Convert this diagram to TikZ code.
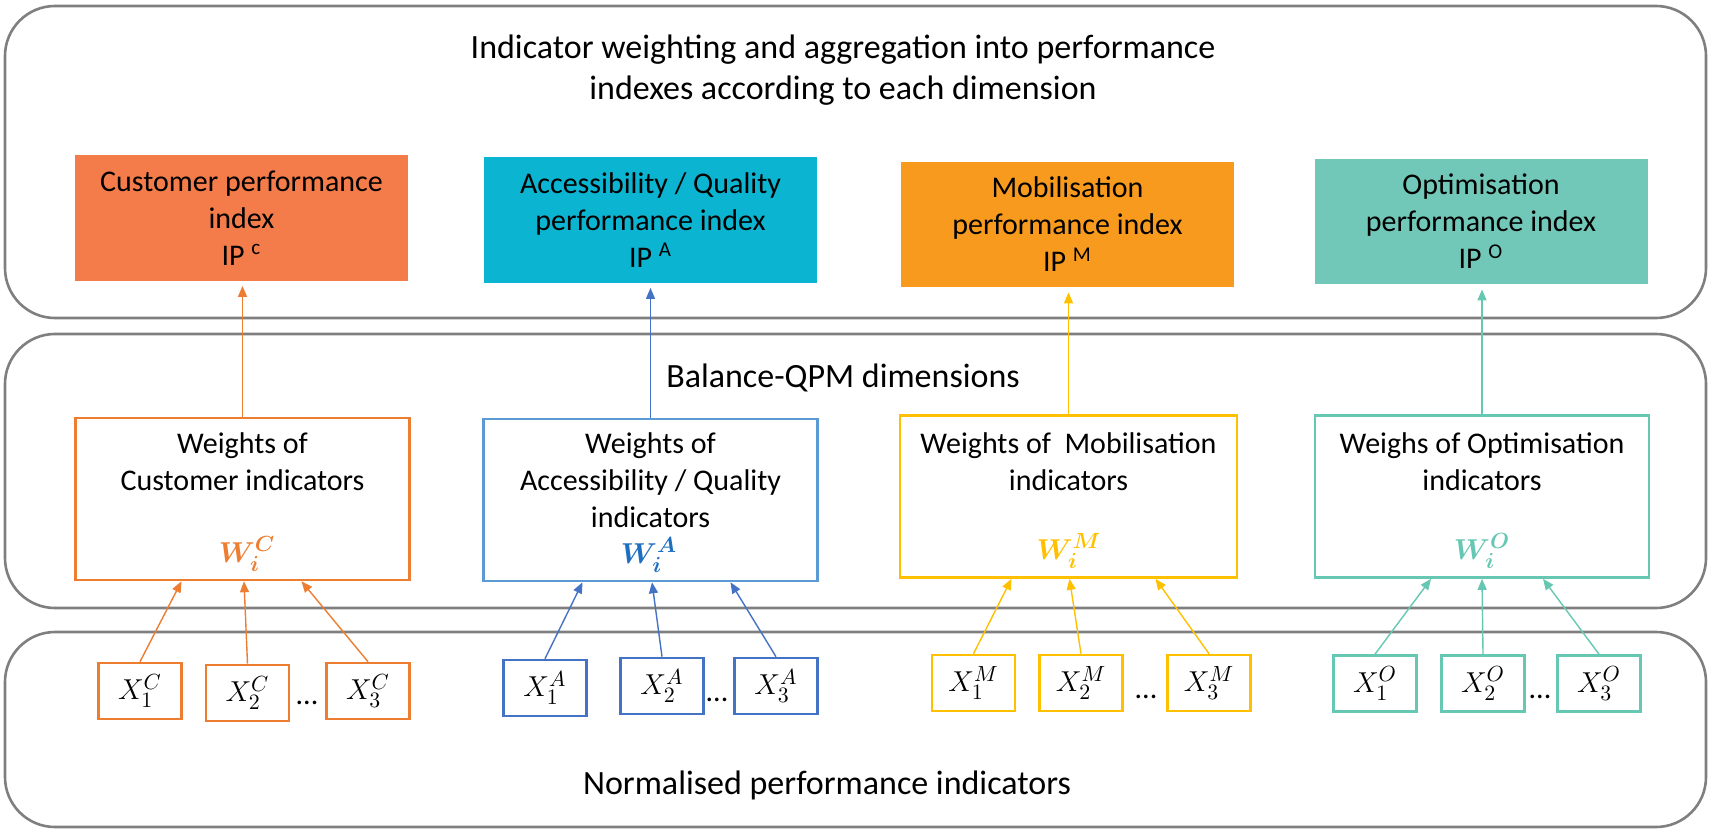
\documentclass[tikz,border=0pt]{standalone}
\usepackage{fontspec}
\setmainfont{Carlito}
\usepackage{amsmath,bm}
\usetikzlibrary{arrows.meta,calc}
\definecolor{cFill}{HTML}{F47C4A}
\definecolor{cLine}{HTML}{ED7D31}
\definecolor{aFill}{HTML}{0BB4D0}
\definecolor{aLine}{HTML}{5B9BD5}
\definecolor{aDark}{HTML}{4472C4}
\definecolor{aText}{HTML}{1F6FC0}
\definecolor{mFill}{HTML}{F79A1E}
\definecolor{mLine}{HTML}{FFC000}
\definecolor{oFill}{HTML}{72C8B8}
\definecolor{oLine}{HTML}{66C7B2}
\definecolor{gLine}{HTML}{7F7F7F}
\begin{document}
\begin{tikzpicture}[x=0.5pt,y=-0.5pt,
  panel/.style={draw=gLine,line width=1.3pt,rounded corners=25pt},
  bigtxt/.style={inner sep=0pt,align=center,font=\fontsize{17pt}{20.5pt}\selectfont},
  txt/.style={inner sep=0pt,align=center,font=\fontsize{15pt}{18.5pt}\selectfont},
  idx/.style={txt,minimum width=166.5pt,minimum height=62.5pt,draw=none},
  wbox/.style={draw,line width=1.3pt,minimum width=167pt,minimum height=81pt,inner sep=0pt},
  xbox/.style={draw,line width=1.3pt,minimum width=41.5pt,minimum height=28pt,inner sep=0pt,font=\fontsize{15pt}{18pt}\selectfont},
  wsym/.style={inner sep=0pt,font=\fontsize{15pt}{18pt}\selectfont},
  dots/.style={inner sep=0pt,font=\fontsize{15pt}{18pt}\selectfont},
  arr/.style={line width=0.7pt,-{Triangle[length=5.5pt,width=4.5pt]}}
]
\useasboundingbox (0,0) rectangle (1712,834);
% panels
\draw[panel] (5,6) rectangle (1706,318);
\draw[panel] (5,334) rectangle (1706,608);
\draw[panel] (5,632) rectangle (1706,827);
% panel titles
\node[bigtxt] (title) at (843,70.5) {Indicator weighting and aggregation into performance\\indexes according to each dimension};
\node[bigtxt] (bal) at (843,378) {Balance-QPM dimensions};
\node[bigtxt] (norm) at (827,785) {Normalised performance indicators};
% index boxes
\node[idx,fill=cFill] (ic) at (241.5,218) {Customer performance\\index\\IP \textsuperscript{c}};
\node[idx,fill=aFill] (ia) at (650.5,220) {Accessibility / Quality\\performance index\\IP \textsuperscript{A}};
\node[idx,fill=mFill] (im) at (1067.5,224.5) {Mobilisation\\performance index\\IP \textsuperscript{M}};
\node[idx,fill=oFill] (io) at (1481,221.5) {Optimisation\\performance index\\IP \textsuperscript{O}};
% weight boxes
\node[wbox,draw=cLine] (wc) at (242.5,499) {};
\node[wbox,draw=aLine] (wa) at (650.5,500) {};
\node[wbox,draw=mLine,minimum width=168.5pt] (wm) at (1068.5,496.5) {};
\node[wbox,draw=oLine] (wo) at (1482,496.5) {};
\node[txt] (tc) at (242.5,462) {Weights of\\Customer indicators};
\node[txt] (ta) at (650.5,480) {Weights of\\Accessibility / Quality\\indicators};
\node[txt] (tm) at (1068.5,461.5) {Weights of~~Mobilisation\\indicators};
\node[txt] (to) at (1482,461.5) {Weighs of Optimisation\\indicators};
\node[wsym,text=cLine] (sc) at (247,554) {$\bm{W_i^C}$};
\node[wsym,text=aText] (sa) at (649,555) {$\bm{W_i^A}$};
\node[wsym,text=mLine] (sm) at (1069,551) {$\bm{W_i^M}$};
\node[wsym,text=oLine] (so) at (1482,551) {$\bm{W_i^O}$};
% X boxes
\node[xbox,draw=cLine] (xc1) at (140,691) {$X_1^C$};
\node[xbox,draw=cLine] (xc2) at (247.5,693) {$X_2^C$};
\node[xbox,draw=cLine] (xc3) at (368,691) {$X_3^C$};
\node[dots] (dc) at (307,703) {...};
\node[xbox,draw=aDark] (xa1) at (545,688) {$X_1^A$};
\node[xbox,draw=aDark] (xa2) at (662,686) {$X_2^A$};
\node[xbox,draw=aDark] (xa3) at (776,686) {$X_3^A$};
\node[dots] (da) at (717,700) {...};
\node[xbox,draw=mLine] (xm1) at (973.5,683) {$X_1^M$};
\node[xbox,draw=mLine] (xm2) at (1081,683) {$X_2^M$};
\node[xbox,draw=mLine] (xm3) at (1209,683) {$X_3^M$};
\node[dots] (dm) at (1146,697) {...};
\node[xbox,draw=oLine] (xo1) at (1375,683.5) {$X_1^O$};
\node[xbox,draw=oLine] (xo2) at (1483,683.5) {$X_2^O$};
\node[xbox,draw=oLine] (xo3) at (1599,683.5) {$X_3^O$};
\node[dots] (do) at (1540,697) {...};
% arrows weights -> index
\draw[arr,cLine,shorten >=2.5pt] (wc.north) -- (wc.north |- ic.south);
\draw[arr,aDark,shorten >=2.5pt] (wa.north) -- (wa.north |- ia.south);
\draw[arr,mLine,shorten >=2.5pt] (wm.north) -- (wm.north |- im.south);
\draw[arr,oLine,shorten >=2.5pt] (wo.north) -- (wo.north |- io.south);
% arrows X -> weights
\draw[arr,cLine] (xc1.north) -- ($(wc.south)+(-61,0)$);
\draw[arr,cLine] (xc2.north) -- ($(wc.south)+(1.5,0)$);
\draw[arr,cLine] (xc3.north) -- ($(wc.south)+(59,0)$);
\draw[arr,aDark] (xa1.north) -- ($(wa.south)+(-68,0)$);
\draw[arr,aDark] (xa2.north) -- ($(wa.south)+(1.5,0)$);
\draw[arr,aDark] (xa3.north) -- ($(wa.south)+(80,0)$);
\draw[arr,mLine] (xm1.north) -- ($(wm.south)+(-57,0)$);
\draw[arr,mLine] (xm2.north) -- ($(wm.south)+(1,0)$);
\draw[arr,mLine] (xm3.north) -- ($(wm.south)+(87,0)$);
\draw[arr,oLine] (xo1.north) -- ($(wo.south)+(-51,0)$);
\draw[arr,oLine] (xo2.north) -- ($(wo.south)+(0,0)$);
\draw[arr,oLine] (xo3.north) -- ($(wo.south)+(61,0)$);
\end{tikzpicture}
\end{document}
